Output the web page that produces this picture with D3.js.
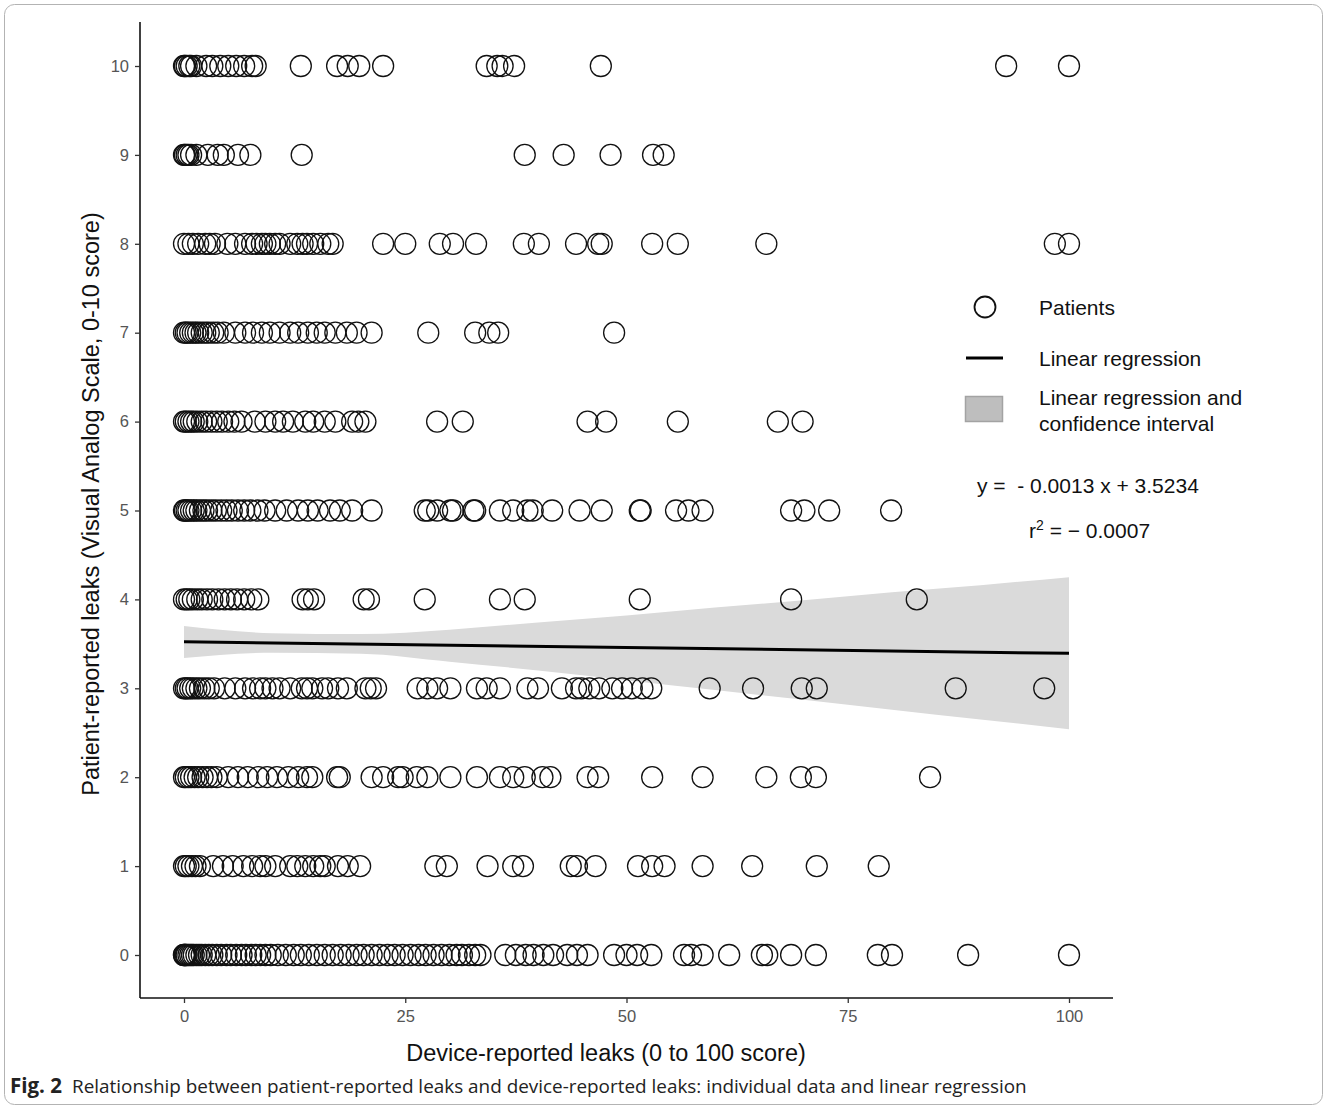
<!DOCTYPE html>
<html>
<head>
<meta charset="utf-8">
<script src="https://cdn.jsdelivr.net/npm/d3@7"></script>
<style>
  body { margin: 0; background: #fff; }
  svg { display: block; }
</style>
</head>
<body>
<div class="chart"></div>
<script>
// device-reported leak scores, one array per patient VAS score
const vas10 = [0, 0.1, 0.3, 0.6, 0.8, 1.4, 2.5, 3.2, 4.1, 5.0, 5.9, 6.8, 7.7, 8.1, 13.2, 17.3, 18.5, 19.8, 22.5, 34.2, 35.4, 36.0, 37.3, 47.1, 92.9, 100];
const vas9 = [0, 0.1, 0.3, 0.5, 0.8, 1.4, 2.7, 3.8, 4.5, 6.1, 7.5, 13.3, 38.5, 42.9, 48.2, 53.0, 54.2];
const vas8 = [0, 0.5, 1.0, 1.6, 2.4, 2.9, 3.5, 4.9, 5.8, 6.9, 7.7, 8.2, 8.8, 9.2, 9.7, 10.3, 10.8, 12.0, 12.8, 13.4, 13.9, 14.6, 15.4, 16.3, 16.8, 22.5, 25.0, 28.9, 30.4, 33.0, 38.4, 40.1, 44.3, 46.8, 47.2, 52.9, 55.8, 65.8, 98.4, 100];
const vas7 = [0, 0.2, 0.4, 0.7, 1.0, 1.3, 1.6, 2.0, 2.4, 2.8, 3.3, 3.8, 4.5, 5.8, 6.9, 7.8, 8.8, 9.7, 10.8, 12.0, 12.9, 14.0, 15.0, 15.9, 17.1, 18.4, 19.5, 21.2, 27.6, 32.9, 34.5, 35.5, 48.6];
const vas6 = [0, 0.2, 0.5, 0.8, 1.1, 1.5, 2.0, 2.5, 3.1, 3.7, 4.3, 5.0, 5.7, 6.5, 8.0, 9.2, 10.3, 11.2, 12.3, 13.7, 14.6, 15.9, 17.1, 19.0, 19.7, 20.5, 28.6, 31.5, 45.6, 47.7, 55.8, 67.1, 69.9];
const vas5 = [0, 0.1, 0.3, 0.5, 0.8, 1.1, 1.4, 1.8, 2.2, 2.6, 3.1, 3.6, 4.2, 4.8, 5.4, 6.1, 6.8, 7.5, 8.3, 9.1, 10.3, 11.6, 12.9, 14.0, 15.1, 16.5, 17.6, 19.0, 21.2, 27.2, 27.6, 28.6, 30.1, 30.4, 32.7, 32.9, 35.7, 37.2, 38.8, 39.4, 41.6, 44.7, 47.2, 51.5, 51.6, 55.6, 57.0, 58.6, 68.6, 70.1, 72.9, 79.9];
const vas4 = [0, 0.3, 0.6, 1.0, 1.5, 2.0, 2.6, 3.2, 3.9, 4.6, 5.3, 6.0, 6.8, 7.6, 8.4, 13.4, 14.0, 14.7, 20.3, 20.9, 27.2, 35.7, 38.5, 51.5, 68.6, 82.8];
const vas3 = [0, 0.2, 0.4, 0.7, 1.0, 1.4, 1.8, 2.3, 2.8, 3.4, 4.6, 5.8, 6.9, 7.8, 8.6, 9.2, 10.0, 10.8, 12.0, 13.3, 13.9, 14.5, 15.6, 16.3, 17.4, 18.4, 20.5, 21.1, 21.7, 26.4, 27.5, 28.6, 30.1, 33.1, 34.2, 35.7, 38.8, 40.0, 42.7, 44.3, 44.9, 45.8, 46.9, 48.4, 49.5, 50.6, 51.8, 52.8, 59.4, 64.3, 69.8, 71.5, 87.2, 97.2];
const vas2 = [0, 0.2, 0.5, 0.8, 1.2, 1.6, 2.1, 2.6, 3.1, 3.7, 5.0, 6.1, 7.2, 8.4, 9.4, 10.5, 11.8, 12.9, 13.9, 14.5, 17.3, 17.6, 21.2, 22.5, 24.2, 24.7, 26.3, 27.5, 30.1, 33.1, 35.7, 37.2, 38.5, 40.5, 41.4, 45.6, 46.8, 52.9, 58.6, 65.8, 69.7, 71.4, 84.3];
const vas1 = [0, 0.2, 0.5, 0.9, 1.3, 1.8, 3.3, 4.4, 5.5, 6.7, 7.7, 8.6, 9.2, 10.3, 12.0, 12.8, 13.7, 14.6, 15.4, 15.9, 17.4, 18.5, 19.9, 28.4, 29.7, 34.3, 37.2, 38.3, 43.7, 44.4, 46.5, 51.3, 52.9, 54.3, 58.6, 64.2, 71.5, 78.5];
const vas0 = [0, 0, 0.1, 0.2, 0.3, 0.5, 0.7, 0.9, 1.1, 1.4, 1.7, 2.0, 2.4, 2.8, 3.2, 3.7, 4.2, 4.8, 5.3, 5.9, 6.5, 7.0, 7.6, 8.1, 8.6, 9.2, 9.8, 10.6, 11.5, 12.4, 13.2, 14.1, 15.0, 15.9, 16.8, 17.7, 18.6, 19.5, 20.3, 21.2, 22.1, 23.0, 23.8, 24.7, 25.6, 26.5, 27.3, 28.2, 29.1, 30.0, 30.8, 31.4, 32.2, 32.9, 33.5, 36.3, 37.5, 38.6, 39.5, 40.6, 41.7, 43.3, 44.4, 45.6, 48.6, 50.0, 51.2, 52.8, 56.5, 57.3, 58.6, 61.6, 65.3, 65.9, 68.6, 71.4, 78.4, 80.0, 88.6, 100];
const rows = [vas0, vas1, vas2, vas3, vas4, vas5, vas6, vas7, vas8, vas9, vas10];

// regression fit and confidence band
const fitX = [0, 100];
const fitY = [3.5234, 3.3934];
const bandX = [0, 10, 20, 30, 40, 50, 60, 70, 80, 90, 100];
const bandUpper = [3.70, 3.62, 3.61, 3.66, 3.74, 3.82, 3.91, 3.99, 4.08, 4.16, 4.25];
const bandLower = [3.34, 3.40, 3.39, 3.30, 3.20, 3.09, 2.98, 2.87, 2.76, 2.65, 2.54];

const xTicks = [0, 25, 50, 75, 100];
const yTicks = [0, 1, 2, 3, 4, 5, 6, 7, 8, 9, 10];

const points = rows.flatMap((xs, score) => xs.map(x => ({x, y: score})));
const band = bandX.map((x, i) => ({x, lo: bandLower[i], hi: bandUpper[i]}));
const fit = fitX.map((x, i) => ({x, y: fitY[i]}));

const W = 1327, H = 1109;
const axisFont = "'Liberation Sans', Arial, sans-serif";

const svg = d3.select(".chart").append("svg")
    .attr("width", W)
    .attr("height", H);

// figure frame
svg.append("rect")
    .attr("x", 4.5).attr("y", 4.5)
    .attr("width", W - 9).attr("height", H - 9)
    .attr("rx", 10)
    .attr("fill", "none")
    .attr("stroke", "#b3b3b3")
    .attr("stroke-width", 1);

const x = d3.scaleLinear().domain([0, 100]).range([184, 1069]);
const y = d3.scaleLinear().domain([0, 10]).range([955, 66]);

const plot = svg.append("g");

plot.append("path")
    .datum(band)
    .attr("fill", "#dadada")
    .attr("d", d3.area()
        .x(d => x(d.x))
        .y0(d => y(d.lo))
        .y1(d => y(d.hi))
        .curve(d3.curveMonotoneX));

plot.selectAll("circle.pt")
    .data(points)
    .enter()
    .append("circle")
    .attr("class", "pt")
    .attr("cx", d => x(d.x))
    .attr("cy", d => y(d.y))
    .attr("r", 10.5)
    .attr("fill", "none")
    .attr("stroke", "#111")
    .attr("stroke-width", 1.3);

plot.append("path")
    .datum(fit)
    .attr("fill", "none")
    .attr("stroke", "#000")
    .attr("stroke-width", 3)
    .attr("d", d3.line().x(d => x(d.x)).y(d => y(d.y)));

// axes
const xAxis = svg.append("g")
    .attr("transform", "translate(0,998)")
    .call(d3.axisBottom(x).tickValues(xTicks).tickSize(5).tickPadding(7).tickFormat(d3.format("d")));
xAxis.select(".domain").attr("d", "M140,0H1113").attr("stroke", "#111").attr("stroke-width", 1.6);

const yAxis = svg.append("g")
    .attr("transform", "translate(140,0)")
    .call(d3.axisLeft(y).tickValues(yTicks).tickSize(5).tickPadding(6));
yAxis.select(".domain").attr("d", "M0,22V998").attr("stroke", "#111").attr("stroke-width", 1.6);

svg.selectAll(".tick line").attr("stroke", "#333").attr("stroke-width", 1.3);
svg.selectAll(".tick text")
    .attr("fill", "#555")
    .style("font-family", axisFont)
    .style("font-size", "16.5px");

svg.append("text")
    .attr("x", 606).attr("y", 1061)
    .attr("text-anchor", "middle")
    .style("font-family", axisFont)
    .style("font-size", "23.5px")
    .attr("fill", "#111")
    .text("Device-reported leaks (0 to 100 score)");

svg.append("text")
    .attr("transform", "translate(99,504) rotate(-90)")
    .attr("text-anchor", "middle")
    .style("font-family", axisFont)
    .style("font-size", "23.5px")
    .attr("fill", "#111")
    .text("Patient-reported leaks (Visual Analog Scale, 0-10 score)");

// legend
const legend = svg.append("g")
    .style("font-family", axisFont)
    .style("font-size", "21px")
    .attr("fill", "#111");

legend.append("circle")
    .attr("cx", 985).attr("cy", 307).attr("r", 10.5)
    .attr("fill", "none").attr("stroke", "#111").attr("stroke-width", 1.8);
legend.append("text").attr("x", 1039).attr("y", 315).text("Patients");

legend.append("line")
    .attr("x1", 966).attr("x2", 1003).attr("y1", 358).attr("y2", 358)
    .attr("stroke", "#000").attr("stroke-width", 3);
legend.append("text").attr("x", 1039).attr("y", 366).text("Linear regression");

legend.append("rect")
    .attr("x", 965.5).attr("y", 396.5).attr("width", 37).attr("height", 25)
    .attr("fill", "#bebebe").attr("stroke", "#a3a3a3").attr("stroke-width", 1.5);
legend.append("text").attr("x", 1039).attr("y", 405).text("Linear regression and");
legend.append("text").attr("x", 1039).attr("y", 431).text("confidence interval");

legend.append("text").attr("x", 977).attr("y", 493).attr("xml:space", "preserve")
    .text("y =  - 0.0013 x + 3.5234");
const r2 = legend.append("text").attr("x", 1029).attr("y", 538);
r2.append("tspan").text("r");
r2.append("tspan").attr("dy", -8).style("font-size", "14px").text("2");
r2.append("tspan").attr("dy", 8).text(" = \u2212 0.0007");

// caption
const cap = svg.append("text")
    .attr("x", 10).attr("y", 1093)
    .style("font-family", "'Open Sans', 'Noto Sans', sans-serif")
    .style("font-size", "18.9px")
    .attr("fill", "#222");
cap.append("tspan").style("font-weight", "bold").style("font-size", "20.5px").text("Fig. 2");
cap.append("tspan").attr("dx", 10)
    .text("Relationship between patient-reported leaks and device-reported leaks: individual data and linear regression");
</script>
</body>
</html>
